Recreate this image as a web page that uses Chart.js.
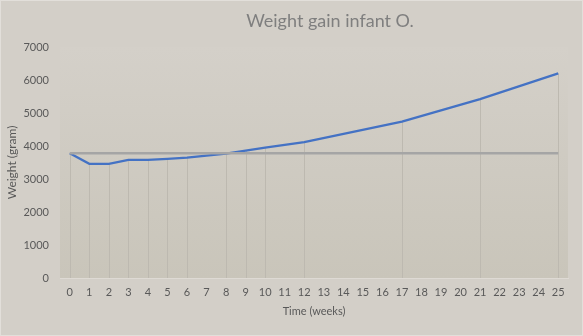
<!DOCTYPE html>
<html>
<head>
<meta charset="utf-8">
<script src="https://cdn.jsdelivr.net/npm/chart.js@4"></script>
<style>
  html, body { margin: 0; padding: 0; background: #d3cfc8; }
  #wrap { width: 583px; height: 336px; }
</style>
</head>
<body>
<div id="wrap"><canvas id="chart" width="583" height="336"></canvas></div>
<script>
const chartTitle = 'Weight gain infant O.';
const weeks = ['0', '1', '2', '3', '4', '5', '6', '7', '8', '9', '10', '11', '12',
    '13', '14', '15', '16', '17', '18', '19', '20', '21', '22', '23', '24', '25'];
// measured weights, null where no weighing took place that week
const weight = [3780, 3460, 3460, 3580, 3580, 3610, 3650, null, 3770, 3860, 3950, null, 4120,
    null, null, null, null, 4740, null, null, null, 5420, null, null, null, 6200];
// birth weight reference line
const birthWeight = weeks.map(() => 3780);

const font = 'Lato, "Open Sans", sans-serif';

// background of the whole chart and a soft gradient behind the plot area
const backdrop = {
    id: 'backdrop',
    beforeDraw(chart) {
        const { ctx, chartArea: a } = chart;
        ctx.save();
        ctx.fillStyle = '#d3cfc8';
        ctx.fillRect(0, 0, chart.width, chart.height);
        const g = ctx.createLinearGradient(0, a.top, 0, a.bottom);
        g.addColorStop(0, '#d4d0c9');
        g.addColorStop(1, '#c9c5ba');
        ctx.fillStyle = g;
        ctx.fillRect(a.left, a.top, a.right - a.left, a.bottom - a.top);
        ctx.strokeStyle = '#e2dfda';
        ctx.lineWidth = 1;
        ctx.strokeRect(0.5, 0.5, chart.width - 1, chart.height - 1);
        ctx.restore();
    }
};

// vertical drop lines from each measured point down to the axis
const dropLines = {
    id: 'dropLines',
    beforeDatasetsDraw(chart) {
        const { ctx, chartArea: a } = chart;
        const meta = chart.getDatasetMeta(0);
        ctx.save();
        ctx.strokeStyle = '#bdb9b0';
        ctx.lineWidth = 1;
        meta.data.forEach((pt, i) => {
            if (weight[i] == null) return;
            const x = Math.round(pt.x) + 0.5;
            ctx.beginPath();
            ctx.moveTo(x, pt.y);
            ctx.lineTo(x, a.bottom);
            ctx.stroke();
        });
        ctx.restore();
    }
};

// title sits a little right of centre
const titleText = {
    id: 'titleText',
    afterDraw(chart) {
        const { ctx } = chart;
        ctx.save();
        ctx.font = '18px ' + font;
        ctx.fillStyle = '#7f7f7f';
        ctx.textAlign = 'center';
        ctx.textBaseline = 'middle';
        ctx.fillText(chartTitle, 330, 21);
        ctx.restore();
    }
};

new Chart(document.getElementById('chart'), {
    type: 'line',
    data: {
        labels: weeks,
        datasets: [
            {
                label: 'Weight',
                data: weight,
                borderColor: '#4472c4',
                borderWidth: 2.25,
                pointRadius: 0,
                spanGaps: true,
                tension: 0,
                order: 2
            },
            {
                label: 'Birth weight',
                data: birthWeight,
                borderColor: '#a5a5a5',
                borderWidth: 2.5,
                pointRadius: 0,
                tension: 0,
                order: 1
            }
        ]
    },
    options: {
        responsive: false,
        animation: false,
        layout: { padding: { top: 47, right: 15, bottom: 0, left: 0 } },
        plugins: {
            legend: { display: false },
            tooltip: { enabled: false },
            title: { display: false }
        },
        scales: {
            x: {
                offset: true,
                grid: { display: false, drawTicks: false },
                border: { display: true, color: '#dedad4', width: 1 },
                ticks: { color: '#595959', font: { family: font, size: 11 }, padding: 8, maxRotation: 0, autoSkip: false },
                title: { display: true, text: 'Time (weeks)', color: '#595959', font: { family: font, size: 11 }, padding: { top: 4, bottom: 18 } },
                afterFit(scale) { scale.height = 58; }
            },
            y: {
                min: 0,
                max: 7000,
                grid: { display: false, drawTicks: false },
                border: { display: false },
                ticks: {
                    stepSize: 1000,
                    color: '#595959',
                    font: { family: font, size: 11 },
                    padding: 11,
                    callback: v => String(v)
                },
                title: { display: true, text: 'Weight (gram)', color: '#595959', font: { family: font, size: 12 }, padding: { top: 5, bottom: 4 } },
                afterFit(scale) { scale.width = 60; }
            }
        }
    },
    plugins: [backdrop, dropLines, titleText]
});
</script>
</body>
</html>
